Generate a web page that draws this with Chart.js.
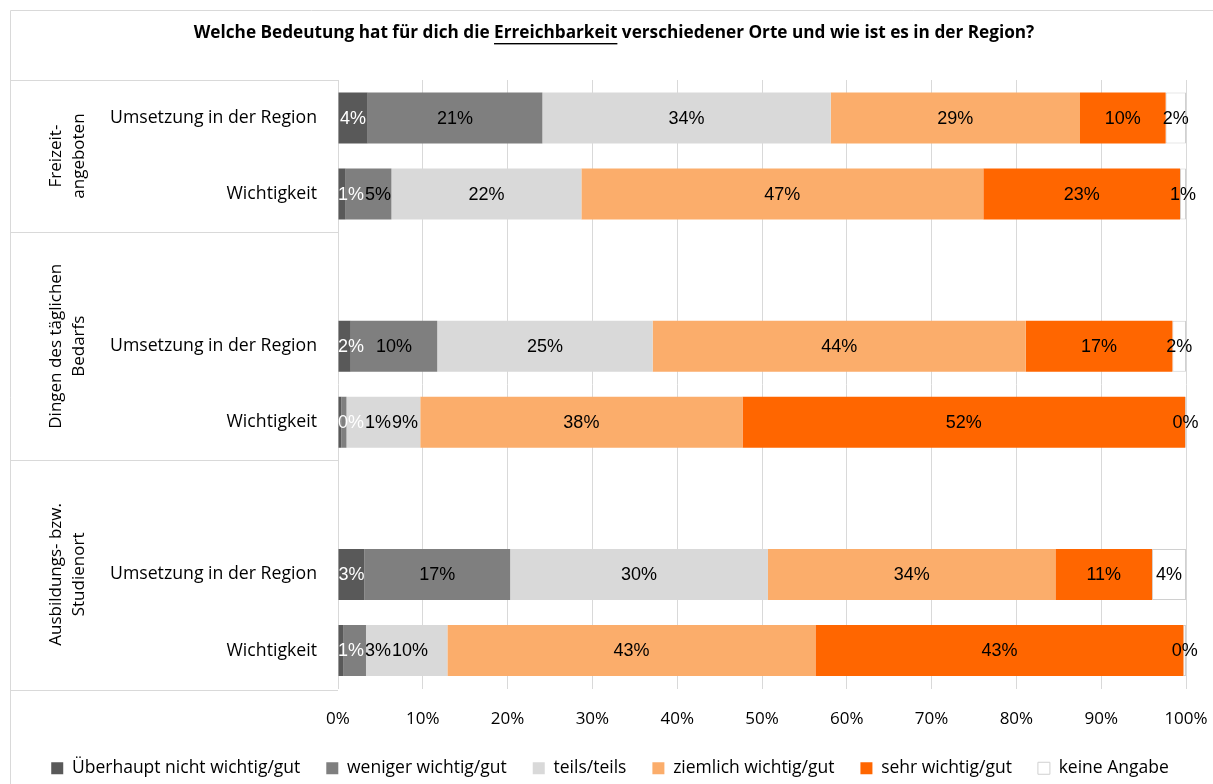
<!DOCTYPE html>
<html>
<head>
<meta charset="utf-8">
<script src="https://cdn.jsdelivr.net/npm/chart.js@4.4.1/dist/chart.umd.min.js"></script>
<style>
html,body{margin:0;padding:0;background:#fff;}
#wrap{width:1213px;height:784px;position:relative;}
</style>
</head>
<body>
<div id="wrap"><canvas id="c" width="1213" height="784"></canvas></div>
<script>
// ---- data ----
const categories = ['Umsetzung in der Region', 'Wichtigkeit', '', 'Umsetzung in der Region', 'Wichtigkeit', '', 'Umsetzung in der Region', 'Wichtigkeit'];
const groupLabels = [['Freizeit-', 'angeboten'], ['Dingen des täglichen', 'Bedarfs'], ['Ausbildungs- bzw.', 'Studienort']];
const groupFirst = [0, 2, 5];
const groupLast = [1, 4, 7];
const seriesNames = ['Überhaupt nicht wichtig/gut', 'weniger wichtig/gut', 'teils/teils', 'ziemlich wichtig/gut', 'sehr wichtig/gut', 'keine Angabe'];
const ueberhauptNicht = [3.5, 0.9, null, 1.5, 0.4, null, 3.1, 0.6];
const weniger = [20.6, 5.4, null, 10.2, 0.6, null, 17.2, 2.7];
const teils = [34.0, 22.4, null, 25.4, 8.7, null, 30.4, 9.6];
const ziemlich = [29.4, 47.4, null, 44.0, 38.0, null, 33.9, 43.4];
const sehr = [10.1, 23.2, null, 17.3, 52.2, null, 11.4, 43.4];
const keineAngabe = [2.4, 0.7, null, 1.6, 0.1, null, 4.0, 0.3];
const xTicks = [0, 10, 20, 30, 40, 50, 60, 70, 80, 90, 100];
const titleParts = ['Welche Bedeutung hat für dich die ', 'Erreichbarkeit', ' verschiedener Orte und wie ist es in der Region?'];

// ---- styles ----
const colors = ['#595959', '#7f7f7f', '#d9d9d9', '#fbad6b', '#ff6600', '#ffffff'];
const labelColors = ['#ffffff', '#000000', '#000000', '#000000', '#000000', '#000000'];
const seriesValues = [ueberhauptNicht, weniger, teils, ziemlich, sehr, keineAngabe];
const FONT = '"Open Sans", sans-serif';
const LINE = '#d9d9d9';

const datasets = seriesNames.map((n, i) => ({
  label: n,
  data: seriesValues[i],
  backgroundColor: colors[i],
  borderColor: i === 5 ? '#d0d0d0' : colors[i],
  borderWidth: i === 5 ? 1 : 0,
  borderSkipped: false,
  categoryPercentage: 0.67,
  barPercentage: 1.0
}));

const framePlugin = {
  id: 'frame',
  afterLayout(chart) {
    const lg = chart.legend;
    if (lg) { lg.left += 12; lg.right += 12; lg.top += 3; lg.bottom += 3; }
  },
  beforeDraw(chart) {
    const ctx = chart.ctx;
    const ca = chart.chartArea;
    const ys = chart.scales.y;
    ctx.save();
    ctx.strokeStyle = LINE;
    ctx.lineWidth = 1;
    ctx.beginPath();
    ctx.moveTo(10.5, 800); ctx.lineTo(10.5, 10.5); ctx.lineTo(1230, 10.5);
    ctx.stroke();
    const bounds = [ca.top];
    for (let g = 0; g < groupLast.length - 1; g++) {
      bounds.push((ys.getPixelForValue(groupLast[g]) + ys.getPixelForValue(groupLast[g] + 1)) / 2);
    }
    bounds.push(ca.bottom + 1);
    ctx.beginPath();
    bounds.forEach(b => { const yy = Math.round(b) + 0.5; ctx.moveTo(10, yy); ctx.lineTo(ca.left, yy); });
    ctx.stroke();
    ctx.restore();
  },
  afterDraw(chart) {
    const ctx = chart.ctx;
    const ys = chart.scales.y;
    ctx.save();
    ctx.font = 'bold 17.2px ' + FONT;
    ctx.fillStyle = '#000';
    ctx.textBaseline = 'middle';
    const widths = titleParts.map(t => ctx.measureText(t).width);
    const total = widths.reduce((a, b) => a + b, 0);
    let x = 614 - total / 2;
    const ty = 33;
    titleParts.forEach((t, i) => {
      ctx.textAlign = 'left';
      ctx.fillText(t, x, ty);
      if (i === 1) {
        ctx.fillRect(x, ty + 10, widths[i], 1.4);
      }
      x += widths[i];
    });
    ctx.font = '17px ' + FONT;
    ctx.fillStyle = '#000';
    ctx.textAlign = 'center';
    groupLabels.forEach((lines, g) => {
      const cy = (ys.getPixelForValue(groupFirst[g]) + ys.getPixelForValue(groupLast[g])) / 2;
      ctx.save();
      ctx.translate(68, cy);
      ctx.rotate(-Math.PI / 2);
      const lh = 23;
      lines.forEach((ln, k) => {
        ctx.fillText(ln, 0, (k - (lines.length - 1) / 2) * lh);
      });
      ctx.restore();
    });
    ctx.restore();
  }
};

const labelPlugin = {
  id: 'segLabels',
  afterDatasetsDraw(chart) {
    const ctx = chart.ctx;
    const ca = chart.chartArea;
    ctx.save();
    ctx.font = '18px "Liberation Sans", Arial, sans-serif';
    ctx.textBaseline = 'middle';
    ctx.textAlign = 'left';
    for (let i = 0; i < categories.length; i++) {
      let prevRight = -Infinity;
      chart.data.datasets.forEach((ds, d) => {
        const v = ds.data[i];
        if (v === null || v === undefined) return;
        const el = chart.getDatasetMeta(d).data[i];
        const txt = Math.round(v) + '%';
        const w = ctx.measureText(txt).width;
        const cx = (el.x + el.base) / 2;
        let left = cx - w / 2;
        if (left < ca.left) left = ca.left;
        if (left < prevRight + 1) left = prevRight + 1;
        prevRight = left + w;
        ctx.fillStyle = labelColors[d];
        ctx.fillText(txt, left, el.y + 1);
      });
    }
    ctx.restore();
  }
};

new Chart(document.getElementById('c'), {
  type: 'bar',
  data: { labels: categories, datasets },
  options: {
    indexAxis: 'y',
    responsive: false,
    animation: false,
    devicePixelRatio: 1,
    layout: { padding: { top: 80, left: 10, right: 27, bottom: 0 } },
    scales: {
      x: {
        stacked: true,
        min: 0, max: 100,
        afterBuildTicks(scale) { scale.ticks = xTicks.map(v => ({ value: v })); },
        afterFit(scale) { scale.height = 42; scale.paddingLeft = 0; scale.paddingRight = 0; },
        ticks: { callback: v => v + '%', font: { family: FONT, size: 17 }, color: '#000', padding: 20, maxRotation: 0 },
        grid: { color: LINE, drawTicks: false, lineWidth: 1 },
        border: { display: false }
      },
      y: {
        stacked: true,
        afterFit(scale) { scale.width = 328; scale.paddingTop = 0; scale.paddingBottom = 0; },
        ticks: { font: { family: FONT, size: 17.7 }, color: '#000', padding: 21, autoSkip: false },
        grid: { display: false, drawTicks: false },
        border: { display: false }
      }
    },
    plugins: {
      legend: {
        position: 'bottom',
        labels: {
          boxWidth: 12, boxHeight: 12,
          font: { family: FONT, size: 17.5 },
          color: '#000',
          padding: 26
        }
      },
      title: { display: false },
      tooltip: { enabled: false }
    }
  },
  plugins: [framePlugin, labelPlugin]
});
</script>
</body>
</html>
